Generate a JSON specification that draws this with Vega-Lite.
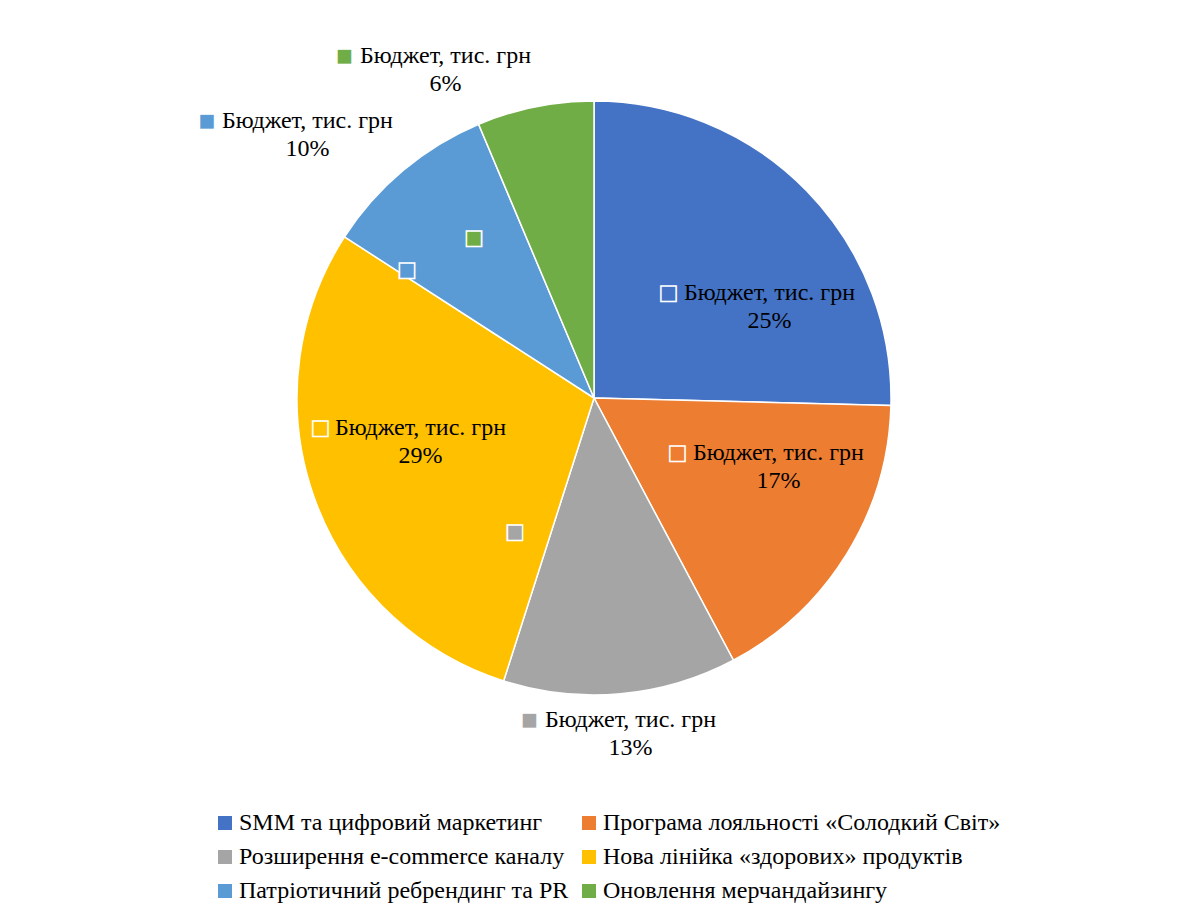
{
  "$schema": "https://vega.github.io/schema/vega-lite/v6.json",
  "width": 1188,
  "height": 796,
  "autosize": {"type": "none"},
  "padding": {"left": 0, "top": 0, "right": 14, "bottom": 114},
  "background": "white",
  "config": {"view": {"stroke": null}, "font": "Liberation Serif", "legend": {"labelFont": "Liberation Serif"}},
  "data": {
    "values": [
      {"id": 1, "category": "SMM та цифровий маркетинг", "budget": 400, "label": "Бюджет, тис. грн\n25%"},
      {"id": 2, "category": "Програма лояльності «Солодкий Світ»", "budget": 265, "label": "Бюджет, тис. грн\n17%"},
      {"id": 3, "category": "Розширення e-commerce каналу", "budget": 200, "label": "Бюджет, тис. грн\n13%"},
      {"id": 4, "category": "Нова лінійка «здорових» продуктів", "budget": 460, "label": "Бюджет, тис. грн\n29%"},
      {"id": 5, "category": "Патріотичний ребрендинг та PR", "budget": 150, "label": "Бюджет, тис. грн\n10%"},
      {"id": 6, "category": "Оновлення мерчандайзингу", "budget": 100, "label": "Бюджет, тис. грн\n6%"}
    ]
  },
  "encoding": {
    "theta": {"field": "budget", "type": "quantitative", "stack": true},
    "order": {"field": "id", "type": "quantitative"},
    "color": {
      "field": "category",
      "type": "nominal",
      "sort": null,
      "scale": {
        "domain": ["SMM та цифровий маркетинг", "Програма лояльності «Солодкий Світ»", "Розширення e-commerce каналу", "Нова лінійка «здорових» продуктів", "Патріотичний ребрендинг та PR", "Оновлення мерчандайзингу"],
        "range": ["#4472C4", "#ED7D31", "#A5A5A5", "#FFC000", "#5B9BD5", "#70AD47"]
      },
      "legend": {
        "orient": "none",
        "direction": "horizontal",
        "legendX": 213,
        "legendY": 811,
        "columns": 2,
        "title": null,
        "symbolType": "square",
        "symbolSize": 196,
        "symbolStrokeWidth": 0,
        "labelFont": "Liberation Serif",
        "labelFontSize": 24,
        "labelColor": "black",
        "labelOffset": 2,
        "labelLimit": 0,
        "rowPadding": 10,
        "columnPadding": 8,
        "padding": 0
      }
    }
  },
  "layer": [
    {"mark": {"type": "arc", "outerRadius": 297, "stroke": "white", "strokeWidth": 1.5}},
    {
      "mark": {
        "type": "text",
        "radius": 190,
        "font": "Liberation Serif",
        "fontSize": 24,
        "lineBreak": "\n",
        "lineHeight": 28,
        "align": "center",
        "baseline": "middle",
        "dx": {"expr": "datum.id==1?39.5:datum.id==2?22.8:datum.id==3?19.5:datum.id==4?5.4:datum.id==5?-164.4:-110.8"},
        "dy": {"expr": "datum.id==1?27.7:datum.id==2?-44.8:datum.id==3?132.8:datum.id==4?-34.1:datum.id==5?-131.5:-155.8"}
      },
      "encoding": {"text": {"field": "label", "type": "nominal"}, "color": {"value": "black"}}
    },
    {
      "mark": {
        "type": "text",
        "radius": 190,
        "font": "DejaVu Sans",
        "fontSize": 20,
        "align": "center",
        "baseline": "middle",
        "stroke": "white",
        "strokeWidth": 1.5,
        "dx": {"expr": "datum.id==1?-61.5:datum.id==2?-78.2:datum.id==3?-81.5:datum.id==4?-94.6:datum.id==5?-264.9:-211.8"},
        "dy": {"expr": "datum.id==1?27.7:datum.id==2?-44.8:datum.id==3?132.8:datum.id==4?-34.1:datum.id==5?-131.5:-155.8"}
      },
      "encoding": {"text": {"value": "■"}}
    },
    {
      "mark": {
        "type": "text",
        "radius": 190,
        "font": "DejaVu Sans",
        "fontSize": 20,
        "align": "center",
        "baseline": "middle",
        "stroke": "white",
        "strokeWidth": 1.5,
        "dx": {"expr": "datum.id==3?-96:datum.id==5?-64.9:datum.id==6?-82.3:0"},
        "dy": {"expr": "datum.id==3?-55.2:datum.id==5?17.5:datum.id==6?26.2:0"}
      },
      "encoding": {"text": {"condition": {"test": "datum.id==3 || datum.id==5 || datum.id==6", "value": "■"}, "value": ""}}
    }
  ]
}
